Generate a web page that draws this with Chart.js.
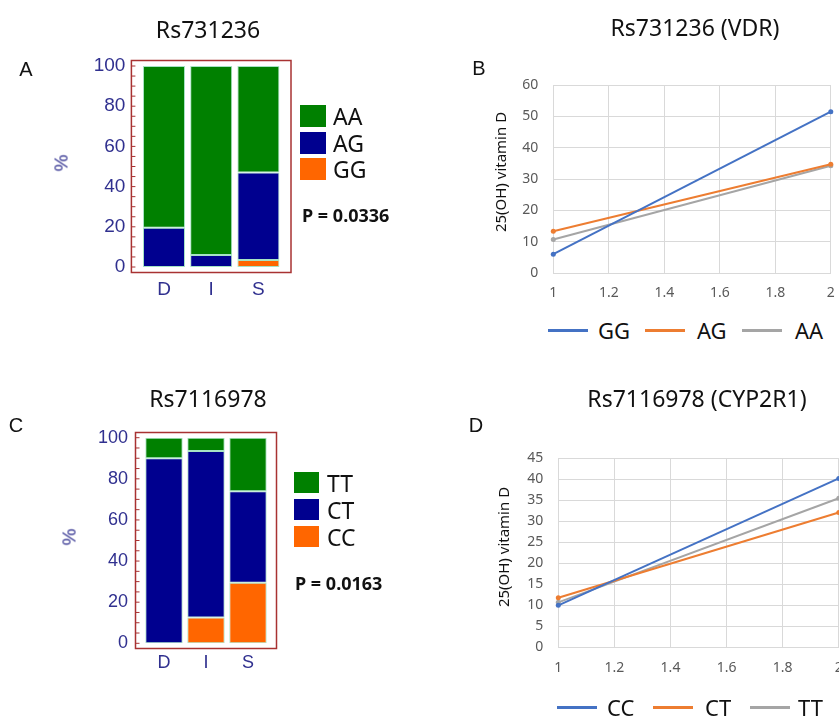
<!DOCTYPE html>
<html>
<head>
<meta charset="utf-8">
<script src="https://cdn.jsdelivr.net/npm/chart.js@4.4.1/dist/chart.umd.min.js"></script>
<style>
  html, body { margin: 0; padding: 0; background: #fff; }
  body { width: 839px; height: 716px; overflow: hidden; position: relative; font-family: "Noto Sans", sans-serif; }
  canvas { position: absolute; }
  .t { position: absolute; white-space: nowrap; line-height: 1; transform: translate(-50%, -50%); }
  .l { position: absolute; white-space: nowrap; line-height: 1; transform: translateY(-50%); }
  .rot { transform: translate(-50%, -50%) rotate(-90deg); }
  .title { font-size: 23px; color: #111; }
  .panel { font-family: "Liberation Sans", sans-serif; font-size: 20px; color: #111; }
  .pct { font-family: "Liberation Sans", sans-serif; font-size: 19px; color: #30308f; }
  .pval { font-weight: bold; font-size: 18px; color: #111; }
  .ytitle { font-size: 15px; color: #111; }
  .sw { position: absolute; }
  .leg { font-size: 23px; color: #111; }
</style>
</head>
<body>

<canvas id="chartA" width="420" height="310" style="left:0;top:0"></canvas>
<canvas id="chartB" width="440" height="310" style="left:420px;top:0"></canvas>
<canvas id="chartC" width="420" height="356" style="left:0;top:360px"></canvas>
<canvas id="chartD" width="440" height="340" style="left:420px;top:360px"></canvas>

<div class="t title" style="left:208px;top:29px">Rs731236</div>
<div class="t title" style="left:695px;top:27px">Rs731236 (VDR)</div>
<div class="t title" style="left:208px;top:398px">Rs7116978</div>
<div class="t title" style="left:697px;top:398px">Rs7116978 (CYP2R1)</div>

<div class="t panel" style="left:26px;top:69px">A</div>
<div class="t panel" style="left:479px;top:68px">B</div>
<div class="t panel" style="left:16px;top:425px">C</div>
<div class="t panel" style="left:476px;top:425px">D</div>

<div class="t rot pct" style="left:61px;top:163px">%</div>
<div class="t rot pct" style="left:69px;top:537px">%</div>

<div class="l pval" style="left:302px;top:215px">P = 0.0336</div>
<div class="l pval" style="left:295px;top:583px">P = 0.0163</div>

<div class="t rot ytitle" style="left:500px;top:172px">25(OH) vitamin D</div>
<div class="t rot ytitle" style="left:503px;top:547px">25(OH) vitamin D</div>

<div id="legA"></div>
<div id="legB"></div>
<div id="legC"></div>
<div id="legD"></div>

<script>
// genotype distribution (%) per group
var groups = ['D', 'I', 'S'];
var vdrLabels = ['GG', 'AG', 'AA'];
var vdrGG = [0, 0, 3.5];
var vdrAG = [19.5, 6, 43.5];
var vdrAA = [80.5, 94, 53];

var cypLabels = ['CC', 'CT', 'TT'];
var cypCC = [0, 12.5, 29.5];
var cypCT = [90, 81, 44.5];
var cypTT = [10, 6.5, 26];

// 25(OH) vitamin D, start (1) and end (2)
var visits = [1, 2];
var vitGG = [6, 51.5];
var vitAG = [13.3, 34.7];
var vitAA = [10.7, 34.2];
var vitCC = [10, 40.2];
var vitCT = [11.8, 32.1];
var vitTT = [10.7, 35.5];

var barColors = ['#ff6600', '#00008f', '#008000'];
var lineColors = ['#4472c4', '#ed7d31', '#a5a5a5'];
var tickBlue = '#30308f';

// red frame round the plot area, with small ticks on the left side
var framePlugin = {
  id: 'frame',
  afterDraw: function(chart, args, o) {
    var a = chart.chartArea, c = chart.ctx, y = chart.scales.y;
    var fx = a.left - o.padX;
    c.save();
    c.strokeStyle = '#a83232';
    c.lineWidth = 1.5;
    c.strokeRect(fx, a.top - o.padY, a.right - a.left + 2 * o.padX, a.bottom - a.top + 2 * o.padY);
    c.lineWidth = 1;
    for (var v = 0; v <= 100; v += 5) {
      var py = y.getPixelForValue(v);
      c.beginPath();
      c.moveTo(fx, py);
      c.lineTo(fx + 4, py);
      c.stroke();
    }
    c.restore();
  }
};

function xy(vals) {
  return vals.map(function(v, i) { return { x: visits[i], y: v }; });
}

function barDatasets(labels, series) {
  return series.map(function(s, i) {
    return {
      label: labels[i],
      data: s,
      backgroundColor: barColors[i],
      borderColor: '#a6e3c4',
      borderWidth: 1,
      borderSkipped: false
    };
  });
}

function lineDatasets(labels, series) {
  return series.map(function(s, i) {
    return {
      label: labels[i],
      data: xy(s),
      borderColor: lineColors[i],
      backgroundColor: lineColors[i],
      borderWidth: 2,
      pointRadius: 2.5,
      pointBorderWidth: 0,
      clip: false
    };
  });
}

function barOptions(pad, yWidth, xHeight, tickSize, xPad, frame) {
  return {
    responsive: false,
    animation: false,
    layout: { padding: pad },
    categoryPercentage: 1,
    barPercentage: 0.89,
    plugins: { legend: { display: false }, tooltip: { enabled: false }, frame: frame },
    scales: {
      x: {
        stacked: true,
        grid: { display: false, drawTicks: false },
        border: { display: false },
        ticks: { color: tickBlue, padding: xPad, font: { family: 'Liberation Sans', size: tickSize } },
        afterFit: function(s) { s.height = xHeight; }
      },
      y: {
        stacked: true,
        min: 0,
        max: 100,
        grid: { display: false, drawTicks: false },
        border: { display: false },
        ticks: { stepSize: 20, color: tickBlue, padding: 15, font: { family: 'Liberation Sans', size: tickSize } },
        afterFit: function(s) { s.width = yWidth; }
      }
    }
  };
}

function lineOptions(pad, yWidth, xHeight, yMax, yStep) {
  return {
    responsive: false,
    animation: false,
    layout: { padding: pad },
    plugins: { legend: { display: false }, tooltip: { enabled: false } },
    scales: {
      x: {
        type: 'linear',
        min: 1,
        max: 2,
        grid: { color: '#d9d9d9', drawTicks: false },
        border: { color: '#d9d9d9' },
        ticks: {
          stepSize: 0.2,
          color: '#595959',
          padding: 12,
          font: { family: 'Noto Sans', size: 14 },
          callback: function(v) { return String(Math.round(v * 10) / 10); }
        },
        afterFit: function(s) { s.height = xHeight; }
      },
      y: {
        min: 0,
        max: yMax,
        grid: { color: '#d9d9d9', drawTicks: false },
        border: { display: false },
        ticks: { stepSize: yStep, color: '#595959', padding: 15, font: { family: 'Noto Sans', size: 14 } },
        afterFit: function(s) { s.width = yWidth; }
      }
    }
  };
}

// A
var ctx = document.getElementById('chartA').getContext('2d');
var chartA = new Chart(ctx, {
  type: 'bar',
  data: { labels: groups, datasets: barDatasets(vdrLabels, [vdrGG, vdrAG, vdrAA]) },
  options: barOptions({ left: 0, top: 66, right: 138, bottom: 0 }, 140.4, 43, 19, 11, { padX: 9, padY: 5.5 }),
  plugins: [framePlugin]
});

// B
var ctx = document.getElementById('chartB').getContext('2d');
var chartB = new Chart(ctx, {
  type: 'line',
  data: { datasets: lineDatasets(vdrLabels, [vitGG, vitAG, vitAA]) },
  options: lineOptions({ left: 0, top: 85, right: 29.2, bottom: 0 }, 133.3, 37, 60, 10)
});

// C
var ctx = document.getElementById('chartC').getContext('2d');
var chartC = new Chart(ctx, {
  type: 'bar',
  data: { labels: groups, datasets: barDatasets(cypLabels, [cypCC, cypCT, cypTT]) },
  options: barOptions({ left: 0, top: 77.7, right: 151, bottom: 0 }, 143, 72.7, 18, 9, { padX: 7.5, padY: 5.2 }),
  plugins: [framePlugin]
});

// D
var ctx = document.getElementById('chartD').getContext('2d');
var chartD = new Chart(ctx, {
  type: 'line',
  data: { datasets: lineDatasets(cypLabels, [vitCC, vitCT, vitTT]) },
  options: lineOptions({ left: 0, top: 98.3, right: 21.2, bottom: 0 }, 138.3, 52.7, 45, 5)
});

// legends, from the chart datasets
function boxLegend(el, chart, left, tops, w, h, textLeft) {
  var html = '';
  var ds = chart.data.datasets.slice().reverse();
  ds.forEach(function(d, i) {
    html += '<div class="sw" style="left:' + left + 'px;top:' + tops[i] + 'px;width:' + w + 'px;height:' + h +
      'px;background:' + d.backgroundColor + '"></div>';
    html += '<div class="l leg" style="left:' + textLeft + 'px;top:' + (tops[i] + h / 2) + 'px">' + d.label + '</div>';
  });
  document.getElementById(el).innerHTML = html;
}

function lineLegend(el, chart, yc, lineX, textX) {
  var html = '';
  chart.data.datasets.forEach(function(d, i) {
    html += '<div class="sw" style="left:' + lineX[i] + 'px;top:' + (yc - 1.5) + 'px;width:40px;height:3px;background:' +
      d.borderColor + '"></div>';
    html += '<div class="l leg" style="font-size:22px;left:' + textX[i] + 'px;top:' + yc + 'px">' + d.label + '</div>';
  });
  document.getElementById(el).innerHTML = html;
}

boxLegend('legA', chartA, 300, [105, 132, 158], 26, 22, 333);
boxLegend('legC', chartC, 294, [472, 499, 526], 25, 21, 327);
lineLegend('legB', chartB, 330, [548, 645, 742], [598, 697, 795]);
lineLegend('legD', chartD, 707, [557, 653, 750], [607, 705, 798]);
</script>
</body>
</html>
